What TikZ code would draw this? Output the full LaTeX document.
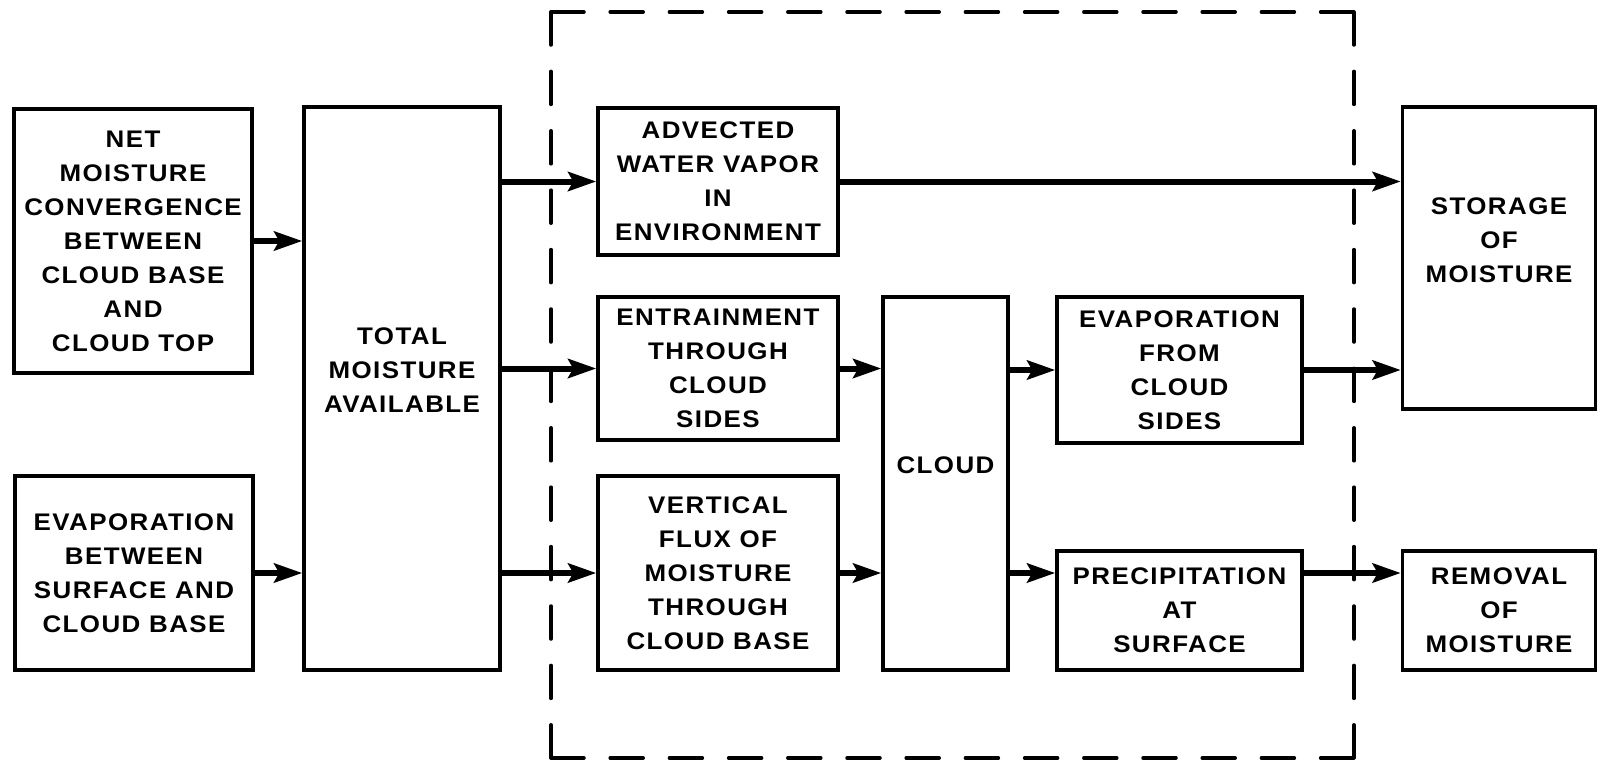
\documentclass[tikz,border=0pt]{standalone}
\usepackage{fontspec}
\setmainfont[LetterSpace=6,FakeStretch=1.08]{Liberation Sans}
\usetikzlibrary{arrows.meta}

\begin{document}
\begin{tikzpicture}[x=1pt,y=-1pt,
  block/.style={draw,line width=3.5pt,align=center,inner sep=0pt,
    font=\fontsize{24}{34}\selectfont\bfseries},
  raised/.style={text depth=36pt},
  flow/.style={line width=6pt,-{Stealth[length=28pt,width=19pt,inset=5pt]}},
  hdash/.style={line width=3.5pt,line cap=round,dash pattern=on 33pt off 26.2pt},
  vdash/.style={line width=3.5pt,line cap=round,dash pattern=on 33pt off 26.4pt}]
  \useasboundingbox (0,0) rectangle (1605,763);
  % dashed outline round the cloud part
  \draw[hdash] (551,12) -- (1354,12);
  \draw[hdash] (551,758) -- (1354,758);
  \draw[vdash] (551,12) -- (551,758);
  \draw[vdash] (1354,12) -- (1354,758);
  % sources
  \node[block,minimum width=238,minimum height=264] (net) at (133,241)
    {NET\\MOISTURE\\CONVERGENCE\\BETWEEN\\CLOUD BASE\\AND\\CLOUD TOP};
  \node[block,minimum width=238,minimum height=194] (evapsb) at (134,573)
    {EVAPORATION\\BETWEEN\\SURFACE AND\\CLOUD BASE};
  \node[block,raised,minimum width=196,minimum height=563] (total) at (402,388.5)
    {TOTAL\\MOISTURE\\AVAILABLE};
  % inside the dashed outline
  \node[block,minimum width=240,minimum height=147] (advected) at (718,181.5)
    {ADVECTED\\WATER VAPOR\\IN\\ENVIRONMENT};
  \node[block,minimum width=240,minimum height=143] (entrain) at (718,368.5)
    {ENTRAINMENT\\THROUGH\\CLOUD\\SIDES};
  \node[block,minimum width=240,minimum height=194] (vertical) at (718,573)
    {VERTICAL\\FLUX OF\\MOISTURE\\THROUGH\\CLOUD BASE};
  \node[block,raised,minimum width=125,minimum height=373] (cloud) at (945.5,483.5)
    {CLOUD};
  \node[block,minimum width=245,minimum height=146] (evapcs) at (1179.5,370)
    {EVAPORATION\\FROM\\CLOUD\\SIDES};
  \node[block,minimum width=245,minimum height=119] (precip) at (1179.5,610.5)
    {PRECIPITATION\\AT\\SURFACE};
  % sinks
  \node[block,raised,minimum width=193,minimum height=302] (storage) at (1499,258)
    {STORAGE\\OF\\MOISTURE};
  \node[block,minimum width=193,minimum height=119] (removal) at (1499,610.5)
    {REMOVAL\\OF\\MOISTURE};
  % flows
  \draw[flow] (net.east) -- (net.east -| total.west);
  \draw[flow] (evapsb.east) -- (evapsb.east -| total.west);
  \draw[flow] (total.east |- advected.west) -- (advected.west);
  \draw[flow] (total.east |- entrain.west) -- (entrain.west);
  \draw[flow] (total.east |- vertical.west) -- (vertical.west);
  \draw[flow] (advected.east) -- (advected.east -| storage.west);
  \draw[flow] (entrain.east) -- (entrain.east -| cloud.west);
  \draw[flow] (vertical.east) -- (vertical.east -| cloud.west);
  \draw[flow] (cloud.east |- evapcs.west) -- (evapcs.west);
  \draw[flow] (cloud.east |- vertical.east) -- (precip.west |- vertical.east);
  \draw[flow] (evapcs.east) -- (evapcs.east -| storage.west);
  \draw[flow] (precip.east |- vertical.east) -- (removal.west |- vertical.east);
\end{tikzpicture}
\end{document}
